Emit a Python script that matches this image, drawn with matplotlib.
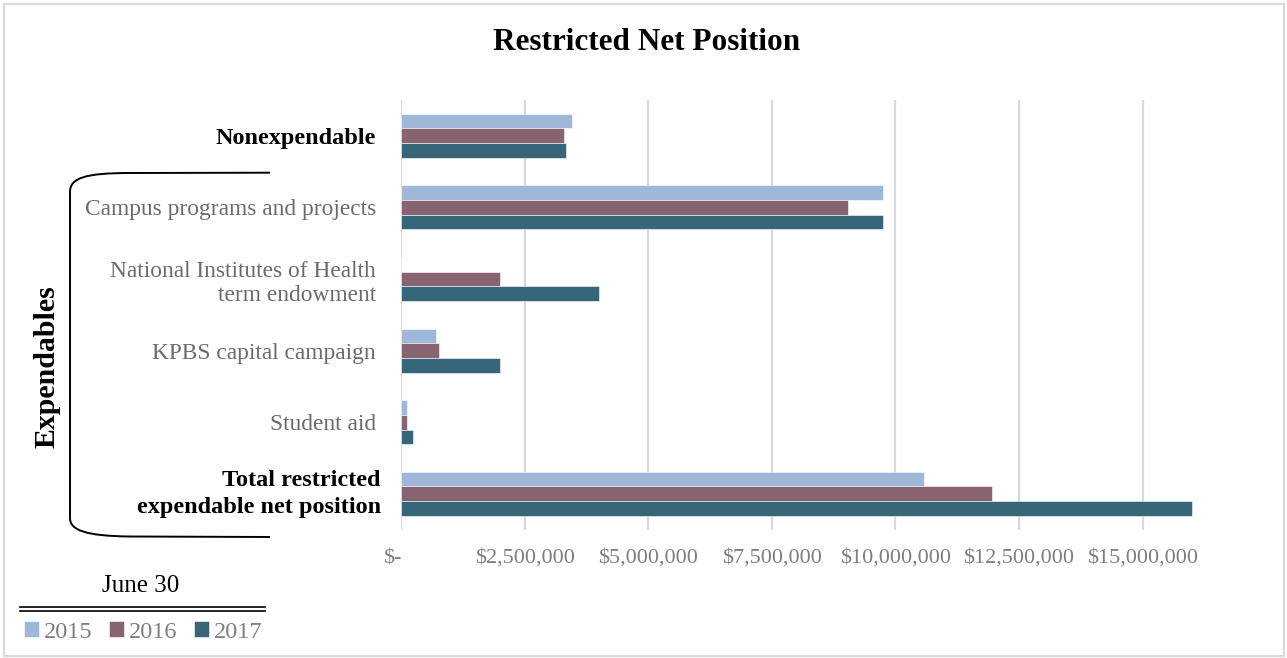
import numpy as np
import matplotlib
matplotlib.use("Agg")
import matplotlib.pyplot as plt
from matplotlib.path import Path
from matplotlib.patches import PathPatch
from matplotlib.lines import Line2D
from matplotlib.ticker import FuncFormatter
from matplotlib.transforms import ScaledTranslation

plt.rcParams['font.family'] = ['Liberation Serif', 'DejaVu Serif']

# restricted net position by category, in dollars
categories = ["Nonexpendable",
              "Campus programs and projects",
              "National Institutes of Health\nterm endowment",
              "KPBS capital campaign",
              "Student aid",
              "Total restricted\nexpendable net position"]
bold_rows = [0, 5]
years = ["2015", "2016", "2017"]
v2015 = [3.45e6, 9.74e6, 0.0, 0.71e6, 0.13e6, 10.58e6]
v2016 = [3.29e6, 9.05e6, 2.01e6, 0.77e6, 0.12e6, 11.95e6]
v2017 = [3.34e6, 9.74e6, 4.01e6, 2.01e6, 0.24e6, 16.00e6]
colors = ["#9fb8da", "#886472", "#376679"]

W, H = 1287, 658
fig = plt.figure(figsize=(W / 100, H / 100), dpi=100)

def fx(px):
    return px / W

def fy(py):
    return 1 - py / H

ax = fig.add_axes([fx(401), fy(529.6), fx(1202) - fx(401), fy(100) - fy(529.6)])

y = np.arange(len(categories))
bh = 0.205
handles = []
for i, (vals, c) in enumerate(zip([v2015, v2016, v2017], colors)):
    b = ax.barh(y + (i - 1) * bh, vals, height=bh, color=c,
                edgecolor="white", linewidth=0.4, zorder=3)
    handles.append(b)

ax.set_ylim(len(categories) - 0.5, -0.5)
ax.set_xlim(0, 16.2e6)
ax.set_xticks(np.arange(0, 15.1e6, 2.5e6))
ax.xaxis.set_major_formatter(FuncFormatter(
    lambda v, p: "$-" if v == 0 else "${:,.0f}".format(v)))
ax.tick_params(axis="x", length=0, pad=14, labelsize=16, labelcolor="#7f7f7f")
ax.grid(axis="x", color="#d9d9d9", linewidth=1.6, zorder=0)
for s in ax.spines.values():
    s.set_visible(False)
# accounting-style zero label sits a little left of its gridline
ax.get_xticklabels()[0].set_ha("right")
ax.get_xticklabels()[0].set_x(0.3e6)

ax.set_yticks(y)
ax.set_yticklabels(categories)
ax.tick_params(axis="y", length=0, pad=18, labelsize=16.8)
labels = ax.get_yticklabels()
for i, t in enumerate(labels):
    if i in bold_rows:
        t.set_fontweight("bold")
        t.set_color("black")
        t.set_fontsize(17.5)
    else:
        t.set_color("#6b6b6b")
    t.set_linespacing(1.2)
# total label: looser lines, nudged up a little
labels[5].set_linespacing(1.35)
labels[5].set_transform(labels[5].get_transform()
                        + ScaledTranslation(0.05, 0.05, fig.dpi_scale_trans))

# title
fig.text(fx(647), fy(42), "Restricted Net Position", ha="center", va="center",
         fontsize=22.5, fontweight="bold")

# bracket grouping the expendable rows
pts = [(270, 172.7), (130, 173), (85, 173), (70, 178), (70, 192),
       (70, 518), (70, 530), (85, 536), (130, 536.5), (270, 537)]
codes = [Path.MOVETO, Path.LINETO, Path.CURVE4, Path.CURVE4, Path.CURVE4,
         Path.LINETO, Path.CURVE4, Path.CURVE4, Path.CURVE4, Path.LINETO]
bracket = Path([(fx(a), fy(b)) for a, b in pts], codes)
fig.patches.append(PathPatch(bracket, transform=fig.transFigure,
                             facecolor="none", edgecolor="black", linewidth=1.4))
fig.text(fx(47), fy(367), "Expendables", rotation=90, ha="center", va="center",
         fontsize=21.5, fontweight="bold")

# legend block
fig.text(fx(141), fy(586), "June 30", ha="center", va="center", fontsize=18)
for yy in (606.5, 610.5):
    fig.add_artist(Line2D([fx(20), fx(265)], [fy(yy), fy(yy)],
                          transform=fig.transFigure, color="black", linewidth=1.2))
leg = fig.legend(handles, years, loc="center left",
                 bbox_to_anchor=(fx(24), fy(632)), ncol=3, frameon=False,
                 fontsize=17.5, handlelength=0.6, handleheight=0.6,
                 handletextpad=0.2, columnspacing=0.7, borderpad=0,
                 borderaxespad=0)
for t in leg.get_texts():
    t.set_color("#7f7f7f")

# outer chart border
fig.add_artist(plt.Rectangle((fx(4), fy(656)), fx(1284) - fx(4), fy(4) - fy(656),
                             transform=fig.transFigure, fill=False,
                             edgecolor="#d9d9d9", linewidth=1.6))

fig.savefig("out.png", dpi=100)
